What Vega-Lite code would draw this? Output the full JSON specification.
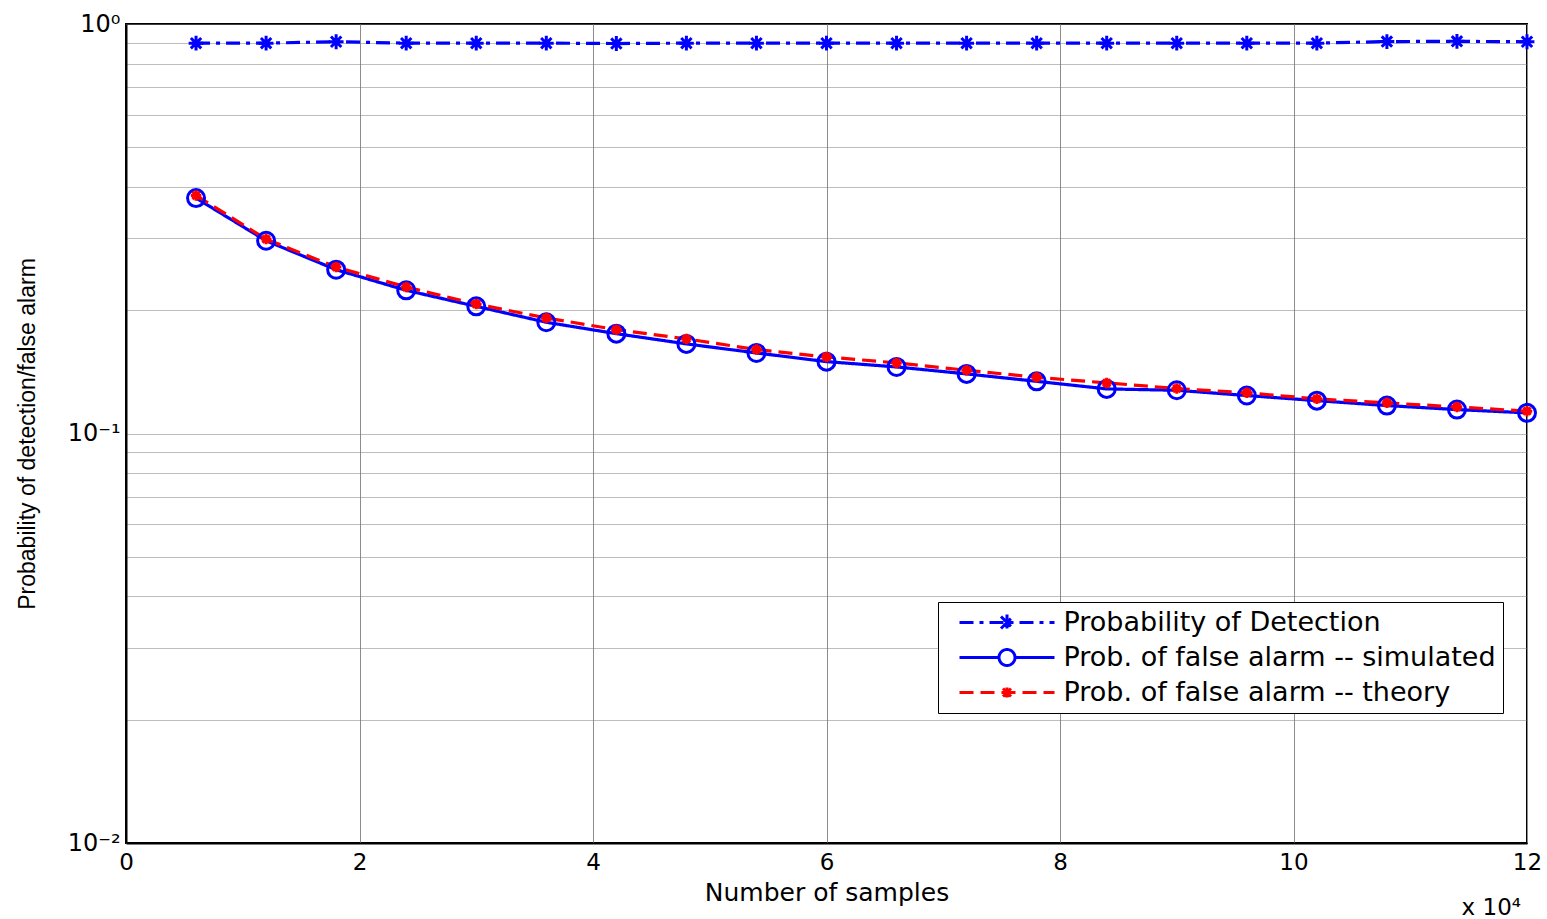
{
  "$schema": "https://vega.github.io/schema/vega-lite/v6.json",
  "width": 1401,
  "height": 819,
  "autosize": {"type": "none"},
  "padding": {"left": 126, "top": 24, "right": 20, "bottom": 76},
  "background": "white",
  "config": {
    "font": "Liberation Sans",
    "view": {"stroke": "black", "strokeWidth": 2}
  },
  "title": {
    "text": "x 10⁴",
    "orient": "bottom",
    "anchor": "end",
    "frame": "group",
    "fontSize": 23,
    "fontWeight": "normal",
    "font": "DejaVu Sans",
    "color": "black",
    "offset": -8,
    "dx": -6
  },
  "data": {
    "values": [
      {"n": 6000, "series": "Probability of Detection", "p": 0.898},
      {"n": 12000, "series": "Probability of Detection", "p": 0.898},
      {"n": 18000, "series": "Probability of Detection", "p": 0.905},
      {"n": 24000, "series": "Probability of Detection", "p": 0.898},
      {"n": 30000, "series": "Probability of Detection", "p": 0.898},
      {"n": 36000, "series": "Probability of Detection", "p": 0.898},
      {"n": 42000, "series": "Probability of Detection", "p": 0.896},
      {"n": 48000, "series": "Probability of Detection", "p": 0.898},
      {"n": 54000, "series": "Probability of Detection", "p": 0.898},
      {"n": 60000, "series": "Probability of Detection", "p": 0.898},
      {"n": 66000, "series": "Probability of Detection", "p": 0.898},
      {"n": 72000, "series": "Probability of Detection", "p": 0.898},
      {"n": 78000, "series": "Probability of Detection", "p": 0.898},
      {"n": 84000, "series": "Probability of Detection", "p": 0.898},
      {"n": 90000, "series": "Probability of Detection", "p": 0.898},
      {"n": 96000, "series": "Probability of Detection", "p": 0.898},
      {"n": 102000, "series": "Probability of Detection", "p": 0.898},
      {"n": 108000, "series": "Probability of Detection", "p": 0.906},
      {"n": 114000, "series": "Probability of Detection", "p": 0.907},
      {"n": 120000, "series": "Probability of Detection", "p": 0.905},
      {"n": 6000, "series": "Prob. of false alarm -- simulated", "p": 0.3757},
      {"n": 12000, "series": "Prob. of false alarm -- simulated", "p": 0.2956},
      {"n": 18000, "series": "Prob. of false alarm -- simulated", "p": 0.2512},
      {"n": 24000, "series": "Prob. of false alarm -- simulated", "p": 0.2237},
      {"n": 30000, "series": "Prob. of false alarm -- simulated", "p": 0.2044},
      {"n": 36000, "series": "Prob. of false alarm -- simulated", "p": 0.1869},
      {"n": 42000, "series": "Prob. of false alarm -- simulated", "p": 0.1753},
      {"n": 48000, "series": "Prob. of false alarm -- simulated", "p": 0.1655},
      {"n": 54000, "series": "Prob. of false alarm -- simulated", "p": 0.1573},
      {"n": 60000, "series": "Prob. of false alarm -- simulated", "p": 0.1498},
      {"n": 66000, "series": "Prob. of false alarm -- simulated", "p": 0.1454},
      {"n": 72000, "series": "Prob. of false alarm -- simulated", "p": 0.1398},
      {"n": 78000, "series": "Prob. of false alarm -- simulated", "p": 0.1341},
      {"n": 84000, "series": "Prob. of false alarm -- simulated", "p": 0.1285},
      {"n": 90000, "series": "Prob. of false alarm -- simulated", "p": 0.1275},
      {"n": 96000, "series": "Prob. of false alarm -- simulated", "p": 0.1238},
      {"n": 102000, "series": "Prob. of false alarm -- simulated", "p": 0.1203},
      {"n": 108000, "series": "Prob. of false alarm -- simulated", "p": 0.1170},
      {"n": 114000, "series": "Prob. of false alarm -- simulated", "p": 0.1144},
      {"n": 120000, "series": "Prob. of false alarm -- simulated", "p": 0.1123},
      {"n": 6000, "series": "Prob. of false alarm -- theory", "p": 0.3814},
      {"n": 12000, "series": "Prob. of false alarm -- theory", "p": 0.2984},
      {"n": 18000, "series": "Prob. of false alarm -- theory", "p": 0.2549},
      {"n": 24000, "series": "Prob. of false alarm -- theory", "p": 0.2279},
      {"n": 30000, "series": "Prob. of false alarm -- theory", "p": 0.2071},
      {"n": 36000, "series": "Prob. of false alarm -- theory", "p": 0.1915},
      {"n": 42000, "series": "Prob. of false alarm -- theory", "p": 0.1793},
      {"n": 48000, "series": "Prob. of false alarm -- theory", "p": 0.1702},
      {"n": 54000, "series": "Prob. of false alarm -- theory", "p": 0.1603},
      {"n": 60000, "series": "Prob. of false alarm -- theory", "p": 0.1538},
      {"n": 66000, "series": "Prob. of false alarm -- theory", "p": 0.1487},
      {"n": 72000, "series": "Prob. of false alarm -- theory", "p": 0.1427},
      {"n": 78000, "series": "Prob. of false alarm -- theory", "p": 0.1372},
      {"n": 84000, "series": "Prob. of false alarm -- theory", "p": 0.1329},
      {"n": 90000, "series": "Prob. of false alarm -- theory", "p": 0.1288},
      {"n": 96000, "series": "Prob. of false alarm -- theory", "p": 0.1257},
      {"n": 102000, "series": "Prob. of false alarm -- theory", "p": 0.1215},
      {"n": 108000, "series": "Prob. of false alarm -- theory", "p": 0.1188},
      {"n": 114000, "series": "Prob. of false alarm -- theory", "p": 0.1161},
      {"n": 120000, "series": "Prob. of false alarm -- theory", "p": 0.1134}
    ]
  },
  "encoding": {
    "x": {
      "field": "n",
      "type": "quantitative",
      "scale": {"domain": [0, 120000], "nice": false, "zero": false},
      "axis": {
        "title": "Number of samples",
        "titleFont": "DejaVu Sans",
        "titleFontSize": 25,
        "titleFontWeight": "normal",
        "titleColor": "black",
        "titlePadding": 6,
        "values": [0, 20000, 40000, 60000, 80000, 100000, 120000],
        "labelExpr": "format(datum.value / 10000, 'd')",
        "labelFont": "DejaVu Sans",
        "labelFontSize": 23,
        "labelColor": "black",
        "labelPadding": 8,
        "labelFlush": false,
        "ticks": false,
        "domain": true,
        "domainColor": "black",
        "domainWidth": 2,
        "grid": true,
        "gridColor": "#8c8c8c",
        "gridWidth": 1
      }
    },
    "y": {
      "field": "p",
      "type": "quantitative",
      "scale": {"type": "log", "domain": [0.01, 1], "nice": false},
      "axis": {
        "title": "Probability of detection/false alarm",
        "titleFontSize": 23,
        "titleFontWeight": "normal",
        "titleColor": "black",
        "titlePadding": 28,
        "values": [0.01, 0.02, 0.03, 0.04, 0.05, 0.06, 0.07, 0.08, 0.09, 0.1, 0.2, 0.3, 0.4, 0.5, 0.6, 0.7, 0.8, 0.9, 1],
        "labelExpr": "datum.value == 1 ? '10⁰' : (datum.value == 0.1 ? '10⁻¹' : (datum.value == 0.01 ? '10⁻²' : ''))",
        "labelFont": "DejaVu Sans",
        "labelFontSize": 24,
        "labelColor": "black",
        "labelPadding": 6,
        "labelFlush": false,
        "labelOverlap": false,
        "ticks": false,
        "domain": true,
        "domainColor": "black",
        "domainWidth": 2,
        "grid": true,
        "gridColor": "#7a7a7a",
        "gridDash": [1, 1],
        "gridWidth": 1
      }
    }
  },
  "layer": [
    {
      "mark": {"type": "line", "strokeWidth": 3.2},
      "encoding": {
        "detail": {"field": "series"},
        "color": {
          "field": "series",
          "type": "nominal",
          "scale": {
            "domain": ["Probability of Detection", "Prob. of false alarm -- simulated", "Prob. of false alarm -- theory"],
            "range": ["#0000ff", "#0000ff", "#ff0000"]
          },
          "legend": {
            "title": null,
            "orient": "none",
            "legendX": 812,
            "legendY": 578,
            "direction": "vertical",
            "strokeColor": "black",
            "fillColor": "white",
            "padding": 7,
            "labelFont": "DejaVu Sans",
            "labelFontSize": 27,
            "labelColor": "black",
            "labelLimit": 0,
            "labelOffset": 43,
            "symbolOffset": 48.5,
            "symbolSize": 400,
            "symbolStrokeWidth": 3,
            "symbolType": "stroke",
            "rowPadding": 6,
            "encoding": {
              "symbols": {
                "shape": {"value": {"expr": "datum.value === 'Probability of Detection' ? 'M-4.75,0L4.75,0M0,-0.8L0,0.8M-0.6,-0.6L0.6,0.6M-0.6,0.6L0.6,-0.6' : (datum.value === 'Prob. of false alarm -- simulated' ? 'M-4.75,0L-0.8,0M0.8,0L4.75,0M-0.8,0A0.8,0.8,0,1,1,0.8,0A0.8,0.8,0,1,1,-0.8,0' : 'M-4.75,0L4.75,0M0,-0.5L0,0.5M-0.4,-0.4L0.4,0.4M-0.4,0.4L0.4,-0.4')"}}
              }
            }
          }
        },
        "strokeDash": {
          "field": "series",
          "type": "nominal",
          "scale": {
            "domain": ["Probability of Detection", "Prob. of false alarm -- simulated", "Prob. of false alarm -- theory"],
            "range": [[14, 6, 4, 6], [1, 0], [14, 7]]
          }
        }
      }
    },
    {
      "transform": [{"filter": {"field": "series", "equal": "Probability of Detection"}}],
      "mark": {"type": "point", "filled": false, "strokeWidth": 3, "opacity": 1, "color": "#0000ff", "shape": "M-1,0L1,0M0,-1L0,1M-0.7,-0.7L0.7,0.7M-0.7,0.7L0.7,-0.7", "size": 220},
      "encoding": {}
    },
    {
      "transform": [{"filter": {"field": "series", "equal": "Prob. of false alarm -- simulated"}}],
      "mark": {"type": "point", "filled": false, "strokeWidth": 3, "opacity": 1, "color": "#0000ff", "shape": "circle", "size": 289},
      "encoding": {}
    },
    {
      "transform": [{"filter": {"field": "series", "equal": "Prob. of false alarm -- theory"}}],
      "mark": {"type": "point", "filled": false, "strokeWidth": 3, "opacity": 1, "color": "#ff0000", "shape": "M-1,0L1,0M0,-1L0,1M-0.7,-0.7L0.7,0.7M-0.7,0.7L0.7,-0.7", "size": 110},
      "encoding": {}
    }
  ]
}
